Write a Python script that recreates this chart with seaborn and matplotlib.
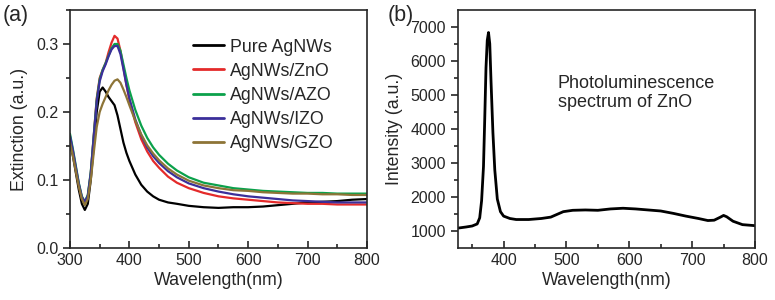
import pandas as pd
import matplotlib
matplotlib.use('Agg')
import matplotlib.pyplot as plt
import numpy as np
import seaborn as sns
from matplotlib.ticker import MultipleLocator


# (a) extinction spectra
wl = [300, 305, 310, 315, 320, 325, 330, 335, 340, 345, 350, 355, 360, 365, 370,
      375, 380, 385, 390, 395, 400, 410, 420, 430, 440, 450, 465, 480, 500, 525,
      550, 575, 600, 625, 650, 675, 700, 725, 750, 775, 800]

pure = [.155, .135, .110, .085, .065, .056, .065, .100, .150, .200, .230, .236, .230, .222, .216,
        .210, .195, .175, .155, .140, .128, .108, .093, .083, .076, .071, .067, .065, .062, .060,
        .059, .060, .060, .061, .063, .065, .067, .068, .069, .071, .072]
zno = [.160, .140, .115, .092, .073, .065, .075, .110, .165, .220, .250, .262, .272, .288, .302,
       .312, .308, .290, .265, .240, .218, .185, .160, .142, .128, .118, .105, .096, .088, .081,
       .076, .073, .071, .069, .067, .066, .065, .065, .064, .064, .064]
azo = [.168, .145, .120, .095, .076, .068, .078, .112, .165, .218, .248, .262, .272, .283, .294,
       .300, .300, .290, .270, .250, .232, .203, .180, .162, .148, .137, .124, .114, .104, .096,
       .092, .088, .086, .084, .083, .082, .081, .081, .080, .080, .080]
izo = [.165, .143, .118, .094, .075, .068, .077, .110, .163, .215, .245, .260, .270, .282, .292,
       .297, .297, .285, .263, .240, .220, .189, .166, .148, .135, .125, .113, .104, .095, .088,
       .083, .079, .076, .074, .072, .070, .069, .068, .067, .067, .067]
gzo = [.155, .135, .112, .090, .072, .063, .072, .100, .140, .178, .200, .212, .222, .232, .240,
       .246, .248, .243, .233, .222, .210, .187, .167, .151, .139, .129, .117, .108, .099, .092,
       .088, .085, .084, .082, .081, .080, .080, .079, .079, .078, .078]

labels = ['Pure AgNWs', 'AgNWs/ZnO', 'AgNWs/AZO', 'AgNWs/IZO', 'AgNWs/GZO']
colors = ['#000000', '#e42a2a', '#0ba14b', '#3b2f9a', '#8d7437']

# (b) photoluminescence of ZnO
pl_wl = [328, 340, 350, 358, 362, 365, 368, 370, 372, 374, 376, 378, 380, 383, 386,
         390, 395, 400, 410, 420, 440, 460, 475, 485, 495, 510, 530, 550, 570, 590,
         610, 630, 650, 670, 690, 710, 725, 735, 745, 750, 755, 765, 780, 800]
pl_int = [1100, 1130, 1160, 1220, 1400, 1900, 2900, 4300, 5800, 6600, 6830, 6500, 5400, 3900, 2800,
          1950, 1580, 1450, 1380, 1350, 1350, 1380, 1420, 1500, 1580, 1620, 1630, 1620, 1660, 1680,
          1660, 1630, 1600, 1530, 1450, 1380, 1320, 1330, 1420, 1470, 1430, 1300, 1200, 1170]


sns.set_style('ticks')
plt.rcParams['font.family'] = ['Liberation Sans', 'DejaVu Sans']
plt.rcParams['axes.linewidth'] = 1.2

ext = pd.DataFrame({'wl': wl * 5,
                    'val': pure + zno + azo + izo + gzo,
                    'sample': [l for l in labels for _ in wl]})
pl = pd.DataFrame({'wl': pl_wl, 'val': pl_int})

fig = plt.figure(figsize=(7.75, 3.0), dpi=100)
ax1 = fig.add_axes([0.0903, 0.1733, 0.3832, 0.7934])
ax2 = fig.add_axes([0.5906, 0.1733, 0.3836, 0.7934])

sns.lineplot(data=ext, x='wl', y='val', hue='sample', hue_order=labels,
             palette=dict(zip(labels, colors)), linewidth=1.6, ax=ax1)
sns.lineplot(data=pl, x='wl', y='val', color='black', linewidth=2.0, ax=ax2)

ax1.set_xlim(300, 800)
ax1.set_ylim(0, 0.35)
ax1.xaxis.set_major_locator(MultipleLocator(100))
ax1.xaxis.set_minor_locator(MultipleLocator(50))
ax1.yaxis.set_major_locator(MultipleLocator(0.1))
ax1.yaxis.set_minor_locator(MultipleLocator(0.05))
ax1.set_yticks([0, 0.1, 0.2, 0.3], ['0.0', '0.1', '0.2', '0.3'])
ax1.set_xlabel('Wavelength(nm)', fontsize=12.8, labelpad=3)
ax1.set_ylabel('Extinction (a.u.)', fontsize=12.8, labelpad=6)

ax2.set_xlim(327, 800)
ax2.set_ylim(515, 7490)
ax2.xaxis.set_major_locator(MultipleLocator(100))
ax2.xaxis.set_minor_locator(MultipleLocator(50))
ax2.yaxis.set_major_locator(MultipleLocator(1000))
ax2.yaxis.set_minor_locator(MultipleLocator(500))
ax2.set_yticks(range(1000, 8000, 1000))
ax2.set_xlabel('Wavelength(nm)', fontsize=12.8, labelpad=3)
ax2.set_ylabel('Intensity (a.u.)', fontsize=12.8, labelpad=5)
ax2.text(0.337, 0.725, 'Photoluminescence\nspectrum of ZnO', transform=ax2.transAxes,
         fontsize=13, va='top', ha='left', linespacing=1.15)

for ax in (ax1, ax2):
    for s in ax.spines.values():
        s.set_visible(True)
        s.set_linewidth(1.2)
    ax.tick_params(axis='x', which='both', direction='in', labelsize=11.5, width=1.2)
    ax.tick_params(axis='y', which='both', direction='out', labelsize=11.5, width=1.2)
    ax.tick_params(which='major', length=5)
    ax.tick_params(which='minor', length=3)

leg = ax1.legend(loc='upper left', bbox_to_anchor=(0.413, 0.88), frameon=False,
                 fontsize=12.8, handlelength=1.75, handletextpad=0.35, labelspacing=0.4,
                 borderaxespad=0, borderpad=0)
for line in leg.get_lines():
    line.set_linewidth(2.0)

fig.text(0.004, 0.93, '(a)', fontsize=15.5)
fig.text(0.500, 0.93, '(b)', fontsize=15.5)

fig.savefig('out.png', dpi=100)
